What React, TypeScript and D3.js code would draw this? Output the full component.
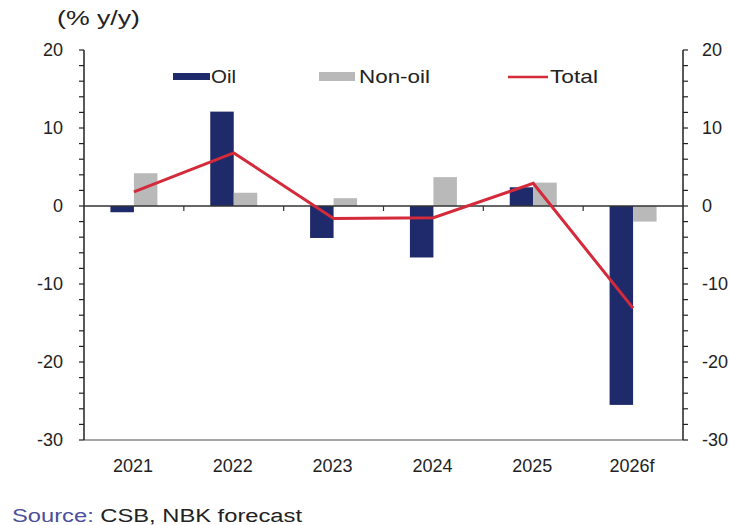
import React from "react";
import * as d3 from "d3";

const categories = ["2021", "2022", "2023", "2024", "2025", "2026f"];
const oil = [-0.8, 12.1, -4.1, -6.6, 2.4, -25.5];
const nonOil = [4.2, 1.7, 1.0, 3.7, 3.0, -2.0];
const total = [1.8, 6.8, -1.6, -1.5, 2.9, -13.1];
const yTicks = [20, 10, 0, -10, -20, -30];

const W = 729, H = 525;
const left = 84, right = 683, top = 50, bottom = 440;
const OIL_C = "#1f2a6b", NON_C = "#b9b9b9", TOT_C = "#d42a3a";
const TXT = "#222";
const FONT = "'Liberation Sans', Arial, sans-serif";

export default function App() {
  const x = d3.scaleBand<string>().domain(categories).range([left, right]).padding(0);
  const y = d3.scaleLinear().domain([-30, 20]).range([bottom, top]);
  const bw = 23.5;
  const minor = d3.range(-30, 21, 2);
  const cx = (c: string) => (x(c) as number) + x.bandwidth() / 2;
  const line = d3.line<number>().x((_, i) => cx(categories[i])).y((d) => y(d));

  return (
    <svg width={W} height={H} style={{ position: "absolute", left: 0, top: 0, background: "#fff" }} fontFamily={FONT}>
      <text x={57} y={25} fontSize={21} fill={TXT} textLength={83} lengthAdjust="spacingAndGlyphs">(% y/y)</text>
      {/* bottom axis */}
      <line x1={left} x2={right} y1={y(-30)} y2={y(-30)} stroke="#8a8a8a" strokeWidth={1.5} />
      {/* left axis */}
      <line x1={left} x2={left} y1={top} y2={bottom} stroke="#222" strokeWidth={1.5} />
      {minor.map((t) => (
        <line key={"lm" + t} x1={left - 5} x2={left} y1={y(t)} y2={y(t)} stroke="#222" strokeWidth={1.2} />
      ))}
      {/* right axis */}
      <line x1={right} x2={right} y1={top} y2={bottom} stroke="#222" strokeWidth={1.5} />
      {minor.map((t) => (
        <line key={"rm" + t} x1={right} x2={right + 5} y1={y(t)} y2={y(t)} stroke="#222" strokeWidth={1.2} />
      ))}
      {yTicks.map((t) => (
        <g key={"yt" + t}>
          <text x={63} y={y(t) + 6} fontSize={18} textAnchor="end" fill={TXT}>{t}</text>
          <text x={702} y={y(t) + 6} fontSize={18} textAnchor="start" fill={TXT}>{t}</text>
        </g>
      ))}
      {/* bars */}
      {categories.map((c, i) => {
        const c0 = cx(c);
        return (
          <g key={c}>
            <rect x={c0 - bw} y={y(Math.max(0, oil[i]))} width={bw} height={Math.abs(y(oil[i]) - y(0))} fill={OIL_C} />
            <rect x={c0} y={y(Math.max(0, nonOil[i]))} width={bw} height={Math.abs(y(nonOil[i]) - y(0))} fill={NON_C} />
          </g>
        );
      })}
      {/* zero line */}
      <line x1={left} x2={right} y1={y(0)} y2={y(0)} stroke="#333" strokeWidth={1.5} />
      {categories.slice(1).map((c) => (
        <line key={"ct" + c} x1={x(c) as number} x2={x(c) as number} y1={y(0)} y2={y(0) + 5} stroke="#333" strokeWidth={1.2} />
      ))}
      <path d={line(total) as string} fill="none" stroke={TOT_C} strokeWidth={3} />
      {categories.map((c) => (
        <text key={"xl" + c} x={cx(c) - 1} y={472} fontSize={18} textAnchor="middle" fill={TXT}>{c}</text>
      ))}
      {/* legend */}
      <rect x={173} y={73} width={37} height={7} fill={OIL_C} />
      <text x={211} y={83} fontSize={19} fill={TXT} textLength={25} lengthAdjust="spacingAndGlyphs">Oil</text>
      <rect x={319} y={72} width={36} height={9} fill={NON_C} />
      <text x={359} y={83} fontSize={19} fill={TXT} textLength={71} lengthAdjust="spacingAndGlyphs">Non-oil</text>
      <line x1={508} x2={548} y1={77} y2={77} stroke={TOT_C} strokeWidth={2.5} />
      <text x={550} y={83} fontSize={19} fill={TXT} textLength={48} lengthAdjust="spacingAndGlyphs">Total</text>
      {/* source */}
      <text x={12} y={522} fontSize={18} textLength={290} lengthAdjust="spacingAndGlyphs">
        <tspan fill="#4b4f9a">Source: </tspan>
        <tspan fill={TXT}>CSB, NBK forecast</tspan>
      </text>
    </svg>
  );
}
